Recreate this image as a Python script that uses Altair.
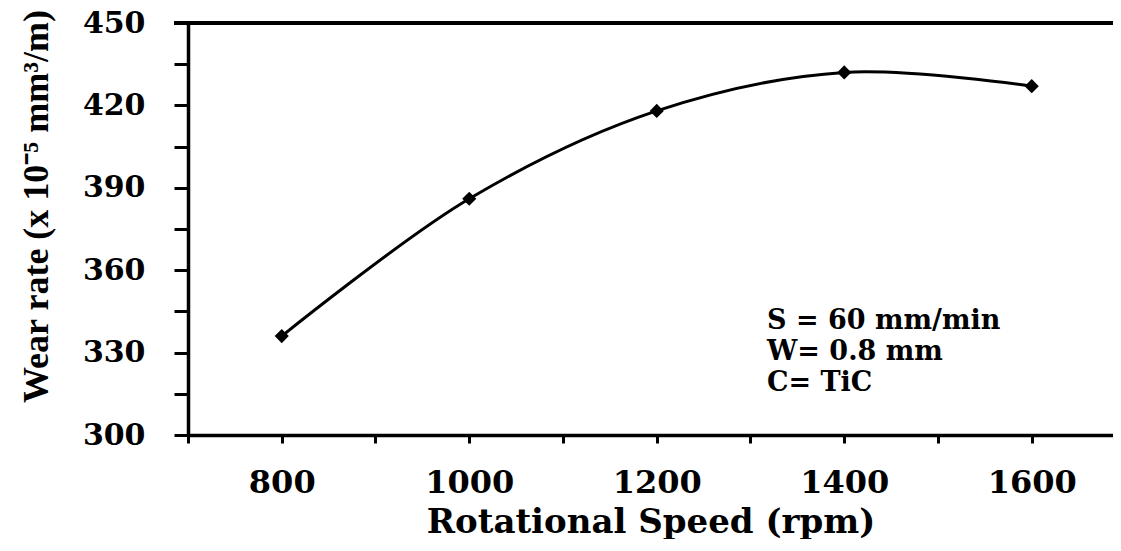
import altair as alt
import pandas as pd

speed = [800, 1000, 1200, 1400, 1600]
wear = [336, 386, 418, 432, 427]
notes = "S = 60 mm/min\nW= 0.8 mm\nC= TiC"
x_ticks = [700, 800, 900, 1000, 1100, 1200, 1300, 1400, 1500, 1600]
y_ticks = [300, 315, 330, 345, 360, 375, 390, 405, 420, 435, 450]

df = pd.DataFrame({"speed": speed, "wear": wear})

FONT = "DejaVu Serif"
W, H = 925, 412

xenc = alt.X(
    "speed:Q",
    scale=alt.Scale(domain=[700, 1686.7], nice=False, zero=False),
    axis=alt.Axis(
        values=x_ticks, format="d",
        labelExpr="(datum.value - 800) % 200 == 0 ? datum.label : ''",
        title="Rotational Speed  (rpm)",
        titleFont=FONT, titleFontSize=34, titleFontWeight="bold", titleColor="black",
        titleY=97, titleBaseline="alphabetic",
        labelFont=FONT, labelFontSize=32, labelFontWeight="bold", labelColor="black",
        labelPadding=24, tickSize=8, tickWidth=3, tickColor="black",
        domainColor="black", domainWidth=3.5, grid=False, labelFlush=False,
    ),
)
yenc = alt.Y(
    "wear:Q",
    scale=alt.Scale(domain=[300, 450], nice=False, zero=False),
    axis=alt.Axis(
        values=y_ticks, format="d",
        labelExpr="datum.value % 30 == 0 ? datum.label : ''",
        title="Wear rate (x 10\u207b\u2075 mm\u00b3/m)",
        titleFont="Liberation Serif", titleFontSize=36, titleFontWeight="bold", titleColor="black",
        titleX=-152, titleY=183, titleBaseline="middle", titleAngle=-90,
        labelFont=FONT, labelFontSize=30, labelFontWeight="bold", labelColor="black",
        labelPadding=29, tickSize=14, tickWidth=3, tickColor="black",
        domainColor="black", domainWidth=3.5, grid=False, labelFlush=False,
    ),
)

base = alt.Chart(df)
line = base.mark_line(color="black", strokeWidth=3, interpolate="catmull-rom").encode(x=xenc, y=yenc)
pts = base.mark_point(shape="diamond", filled=True, color="black", size=200, opacity=1).encode(x="speed:Q", y="wear:Q")
top = base.mark_rule(color="black", strokeWidth=3.5).encode(x=alt.value(-14), x2=alt.value(W), y=alt.value(0))
note = alt.Chart(pd.DataFrame({"t": [notes]})).mark_text(
    lineBreak="\n", lineHeight=31, align="left", baseline="middle",
    font=FONT, fontSize=27, fontWeight="bold", color="black",
).encode(text="t:N", x=alt.value(579), y=alt.value(298))

chart = alt.layer(line, pts, top, note).properties(
    width=W, height=H,
    padding={"left": 180, "top": 15, "right": 0, "bottom": 104},
    autosize=alt.AutoSizeParams(type="none"),
).configure_view(stroke="#dcdcdc", strokeWidth=1.5).configure(background="white")

chart.save("out.html", embed_options={"renderer": "svg", "actions": False})
